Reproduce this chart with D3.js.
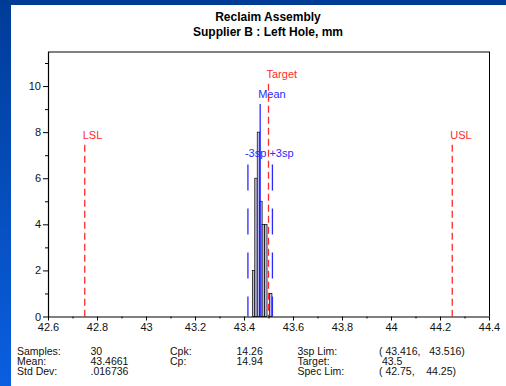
<!DOCTYPE html>
<html>
<head>
<meta charset="utf-8">
<script src="https://cdn.jsdelivr.net/npm/d3@7"></script>
<style>
  body { margin: 0; padding: 0; overflow: hidden; }
  svg { display: block; font-family: "Liberation Sans", Arial, sans-serif; }
  .pre { white-space: pre; }
</style>
</head>
<body>
<div id="chart"></div>
<script>
// histogram bins (lower edge, mm) and counts
var binStarts = [43.434, 43.444, 43.454, 43.464, 43.474, 43.484, 43.494, 43.504];
var binCounts = [2, 6, 8, 5, 4, 4, 0, 1];
var binWidth = 0.01;

var xTicks = [42.6, 42.8, 43, 43.2, 43.4, 43.6, 43.8, 44, 44.2, 44.4];
var xMinorTicks = [42.7, 42.9, 43.1, 43.3, 43.5, 43.7, 43.9, 44.1, 44.3];
var yTicks = [0, 2, 4, 6, 8, 10];
var yMinorTicks = [1, 3, 5, 7, 9, 11];

// reference lines: spec limits, target, mean, 3 sigma limits
var specNames = ["LSL", "USL"];
var specValues = [42.75, 44.25];
var targetValue = 43.5;
var meanValue = 43.4661;
var sigmaNames = ["-3sp", "+3sp"];
var sigmaValues = [43.416, 43.516];

var statsLabels1 = ["Samples:", "Mean:", "Std Dev:"];
var statsValues1 = ["30", "43.4661", ".016736"];
var statsLabels2 = ["Cpk:", "Cp:"];
var statsValues2 = ["14.26", "14.94"];
var statsLabels3 = ["3sp Lim:", "Target:", "Spec Lim:"];
var statsValues3 = ["( 43.416,   43.516)", " 43.5", "( 42.75,    44.25)"];

var W = 506, H = 386;
var plotL = 48, plotR = 489, plotT = 51.5, plotB = 316.5;
var RED = "#ff2a2a", BLUE = "#2a2aff";

var svg = d3.select("#chart").append("svg")
    .attr("width", W)
    .attr("height", H);

var defs = svg.append("defs");
var grad = defs.append("linearGradient")
    .attr("id", "side")
    .attr("x1", 0).attr("y1", 0).attr("x2", 0).attr("y2", 1);
grad.append("stop").attr("offset", "0%").attr("stop-color", "#003c98");
grad.append("stop").attr("offset", "100%").attr("stop-color", "#0a5fe0");

svg.append("rect").attr("width", W).attr("height", H).attr("fill", "url(#side)");
svg.append("rect").attr("width", W).attr("height", 5).attr("fill", "#003c96");
svg.append("rect").attr("x", 11).attr("y", 5).attr("width", W - 11).attr("height", H - 5).attr("fill", "#fff");

// title
svg.append("text")
    .attr("x", 268).attr("y", 20.5)
    .attr("text-anchor", "middle")
    .attr("font-size", 12).attr("font-weight", "bold")
    .text("Reclaim Assembly");
svg.append("text")
    .attr("x", 268).attr("y", 36)
    .attr("text-anchor", "middle")
    .attr("font-size", 12).attr("font-weight", "bold")
    .text("Supplier B : Left Hole, mm");

var x = d3.scaleLinear().domain([42.6, 44.4]).range([plotL, plotR]);
var y = d3.scaleLinear().domain([0, 11.5]).range([plotB, plotT]);

// frame
svg.append("line")
    .attr("x1", plotL).attr("x2", plotR).attr("y1", plotT + 0.5).attr("y2", plotT + 0.5)
    .attr("stroke", "#808080").attr("stroke-width", 2);
svg.append("line")
    .attr("x1", plotR + 0.5).attr("x2", plotR + 0.5).attr("y1", plotT).attr("y2", plotB)
    .attr("stroke", "#000").attr("stroke-width", 1);

// spec limit lines
specValues.forEach(function (v, i) {
    svg.append("line")
        .attr("x1", x(v)).attr("x2", x(v))
        .attr("y1", y(7.45)).attr("y2", plotB)
        .attr("stroke", RED).attr("stroke-width", 1.3)
        .attr("stroke-dasharray", "7,4");
    svg.append("text")
        .attr("x", x(v) - 2).attr("y", y(7.45) - 5.5)
        .attr("font-size", 11).attr("fill", RED)
        .text(specNames[i]);
});

// histogram bars
var bins = binStarts.map(function (s, i) { return {x0: s, x1: s + binWidth, n: binCounts[i]}; });
svg.selectAll(".bar")
    .data(bins.filter(function (d) { return d.n > 0; }))
    .enter().append("rect")
    .attr("class", "bar")
    .attr("x", function (d) { return x(d.x0); })
    .attr("width", function (d) { return x(d.x1) - x(d.x0); })
    .attr("y", function (d) { return y(d.n); })
    .attr("height", function (d) { return y(0) - y(d.n); })
    .attr("fill", "#bcbcec")
    .attr("stroke", "#000")
    .attr("stroke-width", 0.7);

// 3 sigma lines
sigmaValues.forEach(function (v, i) {
    svg.append("line")
        .attr("x1", x(v)).attr("x2", x(v))
        .attr("y1", y(6.6)).attr("y2", plotB)
        .attr("stroke", BLUE).attr("stroke-width", 1.3)
        .attr("stroke-dasharray", "26,18");
    svg.append("text")
        .attr("x", x(v) - 3).attr("y", y(6.6) - 7)
        .attr("font-size", 11).attr("fill", BLUE)
        .text(sigmaNames[i]);
});

// mean line
svg.append("line")
    .attr("x1", x(meanValue)).attr("x2", x(meanValue))
    .attr("y1", y(9.22)).attr("y2", plotB)
    .attr("stroke", BLUE).attr("stroke-width", 1.3);
svg.append("text")
    .attr("x", x(meanValue) - 2).attr("y", y(9.22) - 6)
    .attr("font-size", 11).attr("fill", BLUE)
    .text("Mean");

// target line
svg.append("line")
    .attr("x1", x(targetValue)).attr("x2", x(targetValue))
    .attr("y1", y(10.1)).attr("y2", plotB)
    .attr("stroke", RED).attr("stroke-width", 1.3)
    .attr("stroke-dasharray", "7,4");
svg.append("text")
    .attr("x", x(targetValue) - 2).attr("y", y(10.1) - 6)
    .attr("font-size", 11).attr("fill", RED)
    .text("Target");

// axes
svg.append("g")
    .attr("transform", "translate(0," + plotB + ")")
    .call(d3.axisBottom(x).tickValues(xTicks).tickSize(4).tickSizeOuter(0).tickPadding(3)
        .tickFormat(d3.format("")));
svg.append("g")
    .attr("transform", "translate(0," + plotB + ")")
    .call(d3.axisBottom(x).tickValues(xMinorTicks).tickSize(2).tickFormat(""))
    .call(function (g) { g.select(".domain").remove(); });

svg.append("g")
    .attr("transform", "translate(" + plotL + ",0)")
    .call(d3.axisLeft(y).tickValues(yTicks).tickSize(5).tickSizeOuter(0).tickPadding(2));
svg.append("g")
    .attr("transform", "translate(" + plotL + ",0)")
    .call(d3.axisLeft(y).tickValues(yMinorTicks).tickSize(3).tickFormat(""))
    .call(function (g) { g.select(".domain").remove(); });

svg.selectAll(".tick text").attr("font-size", 11).attr("fill", "#111")
    .attr("font-family", "Liberation Sans, Arial, sans-serif");
svg.selectAll(".domain").attr("stroke-width", 1.2);

// statistics block
function statColumn(list, xPos) {
    svg.append("g").selectAll("text")
        .data(list)
        .enter().append("text")
        .attr("class", "pre")
        .attr("x", xPos)
        .attr("y", function (d, i) { return 354.5 + i * 10; })
        .attr("font-size", 10.5)
        .attr("fill", "#111")
        .text(function (d) { return d; });
}
statColumn(statsLabels1, 17);
statColumn(statsValues1, 90.5);
statColumn(statsLabels2, 170);
statColumn(statsValues2, 236.5);
statColumn(statsLabels3, 297.5);
statColumn(statsValues3, 379);
</script>
</body>
</html>
